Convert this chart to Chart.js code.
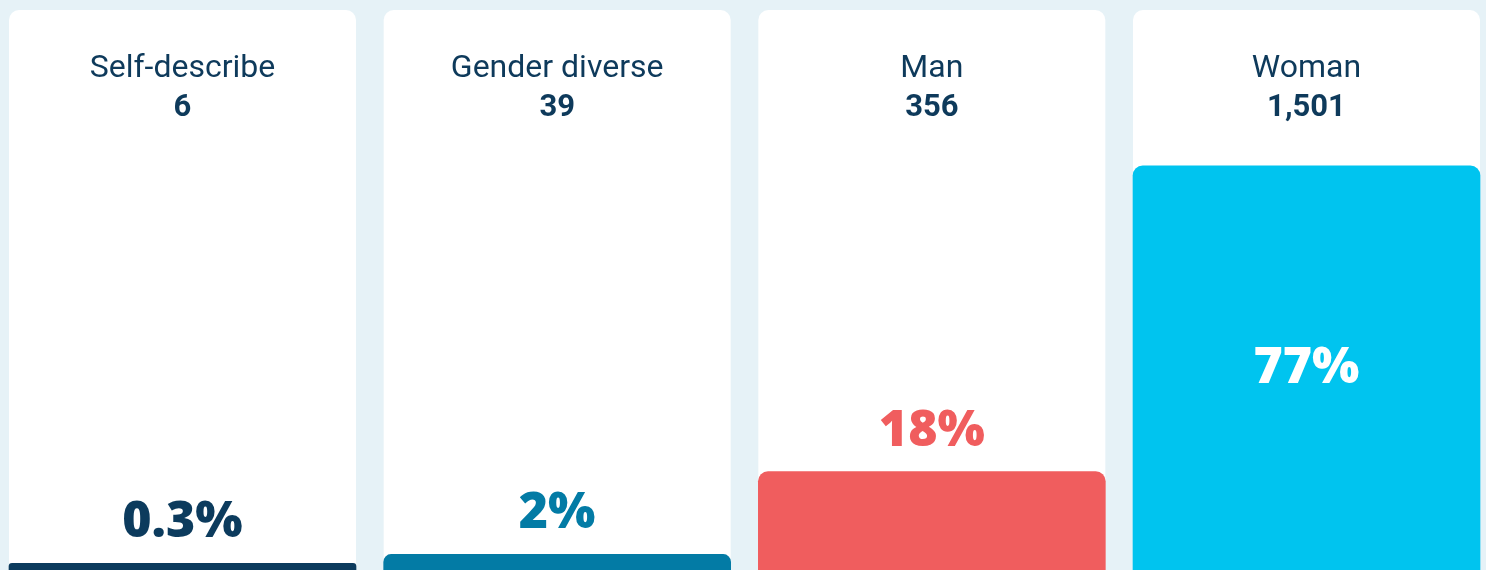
<!DOCTYPE html>
<html>
<head>
<meta charset="utf-8">
<script src="https://cdn.jsdelivr.net/npm/chart.js@4.4.1/dist/chart.umd.min.js"></script>
<style>
  html, body { margin: 0; padding: 0; background: #e6f2f7; overflow: hidden; }
  #wrap { position: relative; width: 1486px; height: 570px; }
</style>
</head>
<body>
<div id="wrap"><canvas id="c"></canvas></div>
<script>
// ---- data ----
const categories = ['Self-describe', 'Gender diverse', 'Man', 'Woman'];
const counts = [6, 39, 356, 1501];
const countLabels = ['6', '39', '356', '1,501'];
const percentages = [0.3, 2, 18, 77];
const percentLabels = ['0.3%', '2%', '18%', '77%'];
const barColors = ['#0c3b5d', '#037ba5', '#f05d5e', '#00c4ef'];

const BG = '#e6f2f7';
const NAVY = '#0e3a5b';

function roundTopRect(ctx, x, y, w, h, r) {
  ctx.beginPath();
  ctx.moveTo(x, y + h);
  ctx.lineTo(x, y + r);
  ctx.arcTo(x, y, x + r, y, r);
  ctx.lineTo(x + w - r, y);
  ctx.arcTo(x + w, y, x + w, y + r, r);
  ctx.lineTo(x + w, y + h);
  ctx.closePath();
}

const cardsPlugin = {
  id: 'cards',
  beforeDraw(chart) {
    const ctx = chart.ctx;
    ctx.save();
    ctx.fillStyle = BG;
    ctx.fillRect(0, 0, chart.width, chart.height);
    ctx.restore();
  },
  beforeDatasetsDraw(chart) {
    const ctx = chart.ctx;
    const meta = chart.getDatasetMeta(0);
    ctx.save();
    ctx.fillStyle = '#ffffff';
    meta.data.forEach((bar) => {
      const w = bar.width;
      roundTopRect(ctx, bar.x - w / 2, 10, w, chart.height + 20, 10);
      ctx.fill();
    });
    ctx.textAlign = 'center';
    ctx.textBaseline = 'alphabetic';
    ctx.fillStyle = NAVY;
    meta.data.forEach((bar, i) => {
      ctx.font = '400 32px Roboto';
      ctx.fillText(categories[i], bar.x, 77);
      ctx.font = '700 31px Roboto';
      ctx.fillText(countLabels[i], bar.x, 116);
    });
    ctx.restore();
  },
  afterDatasetsDraw(chart) {
    const ctx = chart.ctx;
    const meta = chart.getDatasetMeta(0);
    const yScale = chart.scales.y;
    const bottom = chart.chartArea.bottom;
    ctx.save();
    ctx.textAlign = 'center';
    ctx.textBaseline = 'alphabetic';
    ctx.font = '800 50px "Open Sans"';
    const capHalf = 18;
    meta.data.forEach((bar, i) => {
      const h = bottom - bar.y;
      if (h > 200) {
        ctx.fillStyle = '#ffffff';
        const mid = (bar.y + yScale.getPixelForValue(0)) / 2;
        ctx.fillText(percentLabels[i], bar.x, mid + capHalf);
      } else {
        ctx.fillStyle = barColors[i];
        ctx.fillText(percentLabels[i], bar.x, bar.y - 26);
      }
    });
    ctx.restore();
  }
};

const Y_MIN = -1;
const STEP = 374.67;

new Chart(document.getElementById('c'), {
  type: 'bar',
  data: {
    datasets: [{
      data: categories.map((c, i) => ({ x: i, y: percentages[i] })),
      backgroundColor: barColors,
      borderWidth: 0,
      borderRadius: { topLeft: 10, topRight: 10, bottomLeft: 0, bottomRight: 0 },
      borderSkipped: 'start',
      base: Y_MIN,
      barThickness: 347
    }]
  },
  options: {
    responsive: true,
    maintainAspectRatio: false,
    animation: false,
    events: [],
    layout: { padding: 0 },
    plugins: { legend: { display: false }, tooltip: { enabled: false }, title: { display: false } },
    scales: {
      x: {
        type: 'linear', display: false, offset: false, grace: 0,
        min: -182.5 / STEP, max: (1486 - 182.5) / STEP,
        ticks: { stepSize: 1, includeBounds: false }
      },
      y: { display: false, min: Y_MIN, max: 109 }
    }
  },
  plugins: [cardsPlugin]
});
</script>
</body>
</html>
